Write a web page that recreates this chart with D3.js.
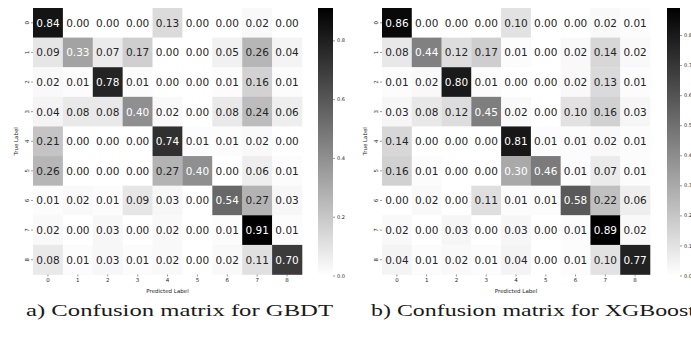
<!DOCTYPE html>
<html><head><meta charset="utf-8">
<script src="https://cdn.jsdelivr.net/npm/d3@7"></script>
<style>html,body{margin:0;padding:0;background:#fff;}svg{display:block;}</style>
</head><body>
<svg id="chart" width="691" height="337"></svg>
<script>
const labels = ["0","1","2","3","4","5","6","7","8"];
const gbdt = [
  [0.84,0.00,0.00,0.00,0.13,0.00,0.00,0.02,0.00],
  [0.09,0.33,0.07,0.17,0.00,0.00,0.05,0.26,0.04],
  [0.02,0.01,0.78,0.01,0.00,0.00,0.01,0.16,0.01],
  [0.04,0.08,0.08,0.40,0.02,0.00,0.08,0.24,0.06],
  [0.21,0.00,0.00,0.00,0.74,0.01,0.01,0.02,0.00],
  [0.26,0.00,0.00,0.00,0.27,0.40,0.00,0.06,0.01],
  [0.01,0.02,0.01,0.09,0.03,0.00,0.54,0.27,0.03],
  [0.02,0.00,0.03,0.00,0.02,0.00,0.01,0.91,0.01],
  [0.08,0.01,0.03,0.01,0.02,0.00,0.02,0.11,0.70]
];
const xgb = [
  [0.86,0.00,0.00,0.00,0.10,0.00,0.00,0.02,0.01],
  [0.08,0.44,0.12,0.17,0.01,0.00,0.02,0.14,0.02],
  [0.01,0.02,0.80,0.01,0.00,0.00,0.02,0.13,0.01],
  [0.03,0.08,0.12,0.45,0.02,0.00,0.10,0.16,0.03],
  [0.14,0.00,0.00,0.00,0.81,0.01,0.01,0.02,0.01],
  [0.16,0.01,0.00,0.00,0.30,0.46,0.01,0.07,0.01],
  [0.00,0.02,0.00,0.11,0.01,0.01,0.58,0.22,0.06],
  [0.02,0.00,0.03,0.00,0.03,0.00,0.01,0.89,0.02],
  [0.04,0.01,0.02,0.01,0.04,0.00,0.01,0.10,0.77]
];
const gbdtTicks = [0.0,0.2,0.4,0.6,0.8];
const xgbTicks = [0.0,0.1,0.2,0.3,0.4,0.5,0.6,0.7,0.8];
const captions = ["a) Confusion matrix for GBDT","b) Confusion matrix for XGBoost"];

const svg = d3.select("#chart");
const defs = svg.append("defs");
const FONT = "DejaVu Sans, sans-serif";

function lum(v){ const c=v/255; return c<=0.03928? c/12.92 : Math.pow((c+0.055)/1.055,2.4); }

function drawMatrix(id, data, ticks, left, right, cbLeft, cbRight, caption, capX, capW){
  const top = 8, bottom = 274.5;
  const g = svg.append("g");
  const x = d3.scaleBand().domain(labels).range([left,right]);
  const y = d3.scaleBand().domain(labels).range([top,bottom]);
  const vmax = d3.max(data.flat());
  const color = d3.scaleLinear().domain([0,vmax]).range([255,0]).clamp(true);
  const cells = [];
  data.forEach((row,i)=>row.forEach((v,j)=>cells.push({r:labels[i],c:labels[j],v})));
  g.selectAll("rect.cell").data(cells).join("rect")
    .attr("x",d=>x(d.c)).attr("y",d=>y(d.r))
    .attr("width",x.bandwidth()+0.3).attr("height",y.bandwidth()+0.3)
    .attr("fill",d=>{const k=Math.round(color(d.v));return `rgb(${k},${k},${k})`;});
  g.selectAll("text.ann").data(cells).join("text")
    .attr("x",d=>x(d.c)+x.bandwidth()/2).attr("y",d=>y(d.r)+y.bandwidth()/2)
    .attr("text-anchor","middle").attr("dominant-baseline","central")
    .attr("font-family",FONT).attr("font-size",10.5)
    .attr("fill",d=>lum(color(d.v))>0.408?"#262626":"#ffffff")
    .text(d=>d.v.toFixed(2));
  // x axis
  const xa = g.append("g").attr("transform",`translate(0,${bottom})`)
    .call(d3.axisBottom(x).tickSize(2).tickPadding(2));
  xa.select(".domain").remove();
  xa.selectAll("line").attr("stroke","#333").attr("stroke-width",0.5);
  xa.selectAll("text").attr("font-family",FONT).attr("font-size",5.5).attr("fill","#262626");
  // y axis
  const ya = g.append("g").attr("transform",`translate(${left},0)`)
    .call(d3.axisLeft(y).tickSize(2).tickPadding(2));
  ya.select(".domain").remove();
  ya.selectAll("line").attr("stroke","#333").attr("stroke-width",0.5);
  ya.selectAll("text").attr("font-family",FONT).attr("font-size",5.5).attr("fill","#262626")
    .attr("text-anchor","middle").attr("dy",null).attr("x",null)
    .attr("transform",function(){return `translate(${-6},0) rotate(-90)`;})
    .attr("dominant-baseline","central");
  g.append("text").attr("transform",`translate(${left-15},${(top+bottom)/2}) rotate(-90)`)
    .attr("text-anchor","middle").attr("font-family",FONT).attr("font-size",5.5)
    .attr("fill","#262626").text("True Label");
  g.append("text").attr("x",(left+right)/2).attr("y",bottom+18)
    .attr("text-anchor","middle").attr("font-family",FONT).attr("font-size",5.5)
    .attr("fill","#262626").text("Predicted Label");
  // colorbar
  const cy = d3.scaleLinear().domain([0,vmax]).range([bottom+1,top]);
  const grad = defs.append("linearGradient").attr("id",id).attr("x1",0).attr("y1",1).attr("x2",0).attr("y2",0);
  grad.append("stop").attr("offset","0%").attr("stop-color","#ffffff");
  grad.append("stop").attr("offset","100%").attr("stop-color","#000000");
  g.append("rect").attr("x",cbLeft).attr("y",top).attr("width",cbRight-cbLeft).attr("height",bottom+1-top)
    .attr("fill",`url(#${id})`);
  const ca = g.append("g").attr("transform",`translate(${cbRight},0)`)
    .call(d3.axisRight(cy).tickValues(ticks).tickFormat(d3.format(".1f")).tickSize(2).tickPadding(2));
  ca.select(".domain").remove();
  ca.selectAll("line").attr("stroke","#333").attr("stroke-width",0.5);
  ca.selectAll("text").attr("font-family",FONT).attr("font-size",5).attr("fill","#262626");
  // caption
  svg.append("text").attr("x",capX).attr("y",316)
    .attr("font-family","Liberation Serif, serif").attr("font-size",17.5)
    .attr("fill","#1a1a1a").attr("textLength",capW).attr("lengthAdjust","spacingAndGlyphs")
    .text(caption);
}

drawMatrix("gb1", gbdt, gbdtTicks, 33, 302, 318, 333, captions[0], 26, 307);
drawMatrix("gb2", xgb, xgbTicks, 382, 650, 667, 680, captions[1], 371, 324);
</script>
</body></html>
